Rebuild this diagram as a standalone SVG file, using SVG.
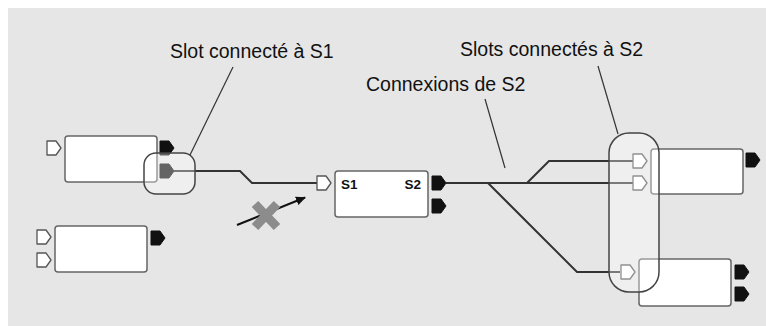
<svg xmlns="http://www.w3.org/2000/svg" xmlns:xlink="http://www.w3.org/1999/xlink" width="766" height="326" viewBox="0 0 766 326">
<style>
.box{fill:#fff;stroke:#666;stroke-width:1.5}
.in{fill:#fff;stroke:#555;stroke-width:1.3;stroke-linejoin:round}
.out{fill:#111;stroke:#111;stroke-width:1;stroke-linejoin:round}
.wire{fill:none;stroke:#333;stroke-width:2}
.lead{fill:none;stroke:#333;stroke-width:1.2}
.hl{fill:#fff;fill-opacity:0.35;stroke:#444;stroke-width:1.5}
.lbl{font-family:"Liberation Sans",Arial,sans-serif;font-size:19.5px;fill:#111}
.slot{font-family:"Liberation Sans",Arial,sans-serif;font-size:13.5px;font-weight:bold;fill:#111}
</style>
<defs>
<path id="pin" d="M0,0 H9 L14,7 L9,14 H0 Z"/>
<marker id="ah" markerWidth="10" markerHeight="10" refX="9" refY="5" orient="auto" markerUnits="userSpaceOnUse">
<path d="M0,0.5 L10,5 L0,9.5 Z" fill="#111"/>
</marker>
</defs>
<rect x="8" y="8" width="758" height="318" fill="#e6e6e6"/>

<g id="connectors">
<polyline class="wire" points="174,171 240,171 252,183 317,183"/>
<polyline class="wire" points="446,183 633,183"/>
<polyline class="wire" points="527,183 549,161 633,161"/>
<polyline class="wire" points="488,183 577,272 620,272"/>
</g>

<g id="nodeA">
<rect class="box" x="65" y="136" width="92" height="46" rx="3"/>
<use xlink:href="#pin" class="in" x="47" y="141"/>
<use xlink:href="#pin" class="out" x="160" y="141"/>
<use xlink:href="#pin" class="out" x="160" y="164"/>
</g>

<g id="nodeB">
<rect class="box" x="55" y="226" width="92" height="46" rx="3"/>
<use xlink:href="#pin" class="in" x="37" y="230"/>
<use xlink:href="#pin" class="in" x="37" y="253"/>
<use xlink:href="#pin" class="out" x="151" y="231"/>
</g>

<g id="nodeS">
<rect class="box" x="335" y="171" width="93" height="46" rx="3"/>
<use xlink:href="#pin" class="in" x="317" y="176"/>
<use xlink:href="#pin" class="out" x="432" y="176"/>
<use xlink:href="#pin" class="out" x="432" y="199"/>
<text class="slot" x="341" y="189">S1</text>
<text class="slot" x="421" y="189" text-anchor="end">S2</text>
</g>

<g id="nodeTR">
<rect class="box" x="651" y="149" width="92" height="45" rx="3"/>
<use xlink:href="#pin" class="in" x="633" y="154"/>
<use xlink:href="#pin" class="in" x="633" y="176"/>
<use xlink:href="#pin" class="out" x="746" y="153"/>
</g>

<g id="nodeBR">
<rect class="box" x="639" y="259" width="92" height="47" rx="3"/>
<use xlink:href="#pin" class="in" x="621" y="265"/>
<use xlink:href="#pin" class="out" x="735" y="265"/>
<use xlink:href="#pin" class="out" x="735" y="287"/>
</g>

<g id="forbidden">
<line x1="237" y1="225" x2="305" y2="197.5" stroke="#111" stroke-width="2" marker-end="url(#ah)"/>
<path d="M255,204 L277,227 M277,204 L255,227" stroke="#8c8c8c" stroke-width="9" fill="none"/>
</g>

<g id="highlightS1">
<rect class="hl" x="144" y="153" width="51" height="41" rx="12"/>
</g>
<g id="highlightS2">
<rect class="hl" x="609" y="133" width="50" height="159" rx="20"/>
</g>

<g id="annotations">
<line class="lead" x1="233" y1="67" x2="190" y2="155"/>
<line class="lead" x1="485" y1="99" x2="505" y2="168"/>
<line class="lead" x1="598" y1="66" x2="618" y2="134"/>
<text class="lbl" x="170" y="57.5">Slot connecté à S1</text>
<text class="lbl" x="460" y="56">Slots connectés à S2</text>
<text class="lbl" x="366" y="90.5">Connexions de S2</text>
</g>
</svg>
